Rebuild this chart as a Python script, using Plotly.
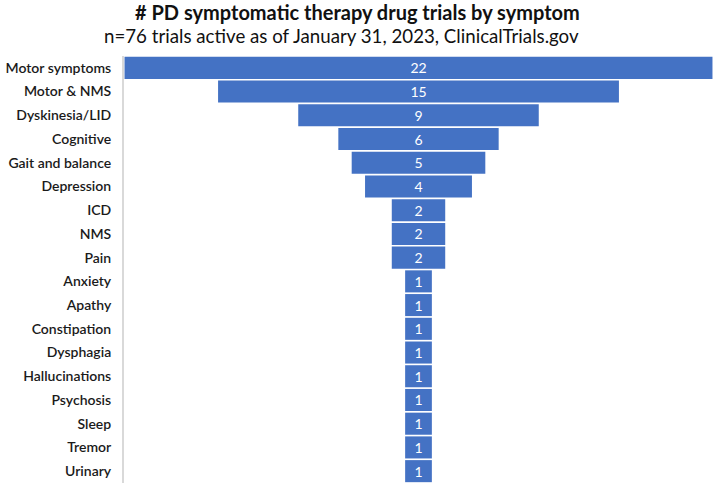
import plotly.graph_objects as go

symptoms = ["Motor symptoms", "Motor & NMS", "Dyskinesia/LID", "Cognitive", "Gait and balance",
            "Depression", "ICD", "NMS", "Pain", "Anxiety", "Apathy", "Constipation", "Dysphagia",
            "Hallucinations", "Psychosis", "Sleep", "Tremor", "Urinary"]
trials = [22, 15, 9, 6, 5, 4, 2, 2, 2, 1, 1, 1, 1, 1, 1, 1, 1, 1]

title = "# PD symptomatic therapy drug trials by symptom"
subtitle = "n=76 trials active as of January 31, 2023, ClinicalTrials.gov"

L, R, T, B = 124, 1, 56, 8
W, H = 714, 491
pw, ph = W - L - R, H - T - B

fig = go.Figure(go.Funnel(
    y=symptoms, x=trials, orientation="h",
    marker=dict(color="#4472C4"),
    textinfo="value", textposition="inside", constraintext="none",
    insidetextanchor="middle",
    textfont=dict(color="white", size=14, family="Lato"),
    connector=dict(visible=False),
    hoverinfo="skip",
))

fig.update_layout(
    width=W, height=H,
    margin=dict(l=L, r=R, t=T, b=B, autoexpand=False),
    paper_bgcolor="white", plot_bgcolor="white",
    funnelgap=0.07,
    showlegend=False,
    font=dict(family="Lato", color="#1a1a1a"),
    annotations=[
        dict(text="<b>" + title + "</b>", x=(357 - L) / pw, xref="paper", xanchor="center",
             y=1 + (T - 12) / ph, yref="paper", yanchor="middle", showarrow=False,
             font=dict(size=20, color="#111")),
        dict(text=subtitle, x=(341 - L) / pw, xref="paper", xanchor="center",
             y=1 + (T - 35.5) / ph, yref="paper", yanchor="middle", showarrow=False,
             font=dict(size=18.7, color="#111")),
    ],
)

fig.update_xaxes(range=[-11.02, 11.02], visible=False)
fig.update_yaxes(automargin=False, showline=True, linecolor="#d9d9d9", linewidth=2, ticks="",
                 ticklabelstandoff=8,
                 tickfont=dict(size=14, family="Lato", color="#1a1a1a", weight=600))

fig.write_html("out.html", config={"displayModeBar": False},
               post_script="document.body.style.margin='0';")
